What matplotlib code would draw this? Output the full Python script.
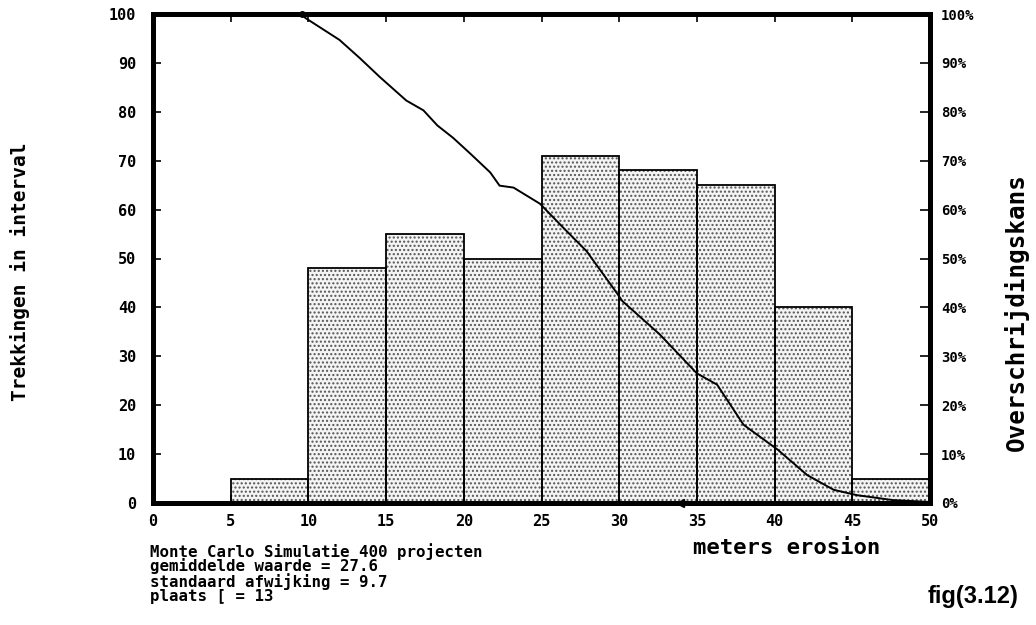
import numpy as np
import matplotlib
matplotlib.use("Agg")
import matplotlib.pyplot as plt

# histogram: 5 m classes, number of draws per class (400 draws in total)
bin_left = [5, 10, 15, 20, 25, 30, 35, 40, 45]
counts = [5, 48, 55, 50, 71, 68, 65, 40, 5]
bin_width = 5

# exceedance probability curve (percent)
curve_x = [9.6, 9.8, 12.0, 13.3, 14.6, 16.3, 17.4, 18.3, 19.3, 20.4, 21.7, 22.3,
           23.2, 24.9, 26.4, 27.9, 29.9, 30.2, 32.6, 35.0, 36.3, 38.0, 40.2,
           42.1, 43.8, 45.3, 47.6, 50.0]
curve_p = [100, 99.2, 94.7, 91.0, 87.1, 82.3, 80.3, 77.2, 74.7, 71.5, 67.6, 64.9,
           64.5, 61.2, 56.3, 51.5, 42.7, 41.3, 34.5, 26.5, 24.2, 16.0, 10.9,
           5.7, 2.7, 1.6, 0.6, 0.2]
marker_x = 33.9

x_ticks = list(range(0, 51, 5))
y_ticks = list(range(0, 101, 10))
pct_labels = [f"{v}%" for v in y_ticks]

info_lines = [
    "Monte Carlo Simulatie 400 projecten",
    "gemiddelde waarde = 27.6",
    "standaard afwijking = 9.7",
    "plaats [ = 13",
]

plt.rcParams["hatch.color"] = "#555555"
plt.rcParams["hatch.linewidth"] = 1.0
mono = "DejaVu Sans Mono"

fig = plt.figure(figsize=(10.36, 6.25), dpi=100)
ax = fig.add_axes([0.1477, 0.1952, 0.75, 0.7824])

# dotted fill, then the outlines on top
ax.bar(bin_left, counts, width=bin_width, align="edge", facecolor="#f4f4f4",
       hatch="....", linewidth=0, zorder=1)
ax.bar(bin_left, counts, width=bin_width, align="edge", fill=False,
       edgecolor="black", linewidth=1.3, zorder=2)

ax.set_xlim(0, 50)
ax.set_ylim(0, 100)
ax.set_xticks(x_ticks)
ax.set_yticks(y_ticks)
ax.tick_params(axis="both", direction="in", length=6, width=1.2,
               labelsize=11, top=True)
ax.tick_params(axis="x", pad=8)
ax.tick_params(axis="y", pad=12)
for lab in ax.get_xticklabels() + ax.get_yticklabels():
    lab.set_fontfamily(mono)
    lab.set_fontweight("bold")
for s in ax.spines.values():
    s.set_linewidth(3.5)

ax2 = ax.twinx()
ax2.set_ylim(0, 100)
ax2.set_yticks(y_ticks)
ax2.set_yticklabels(pct_labels)
ax2.tick_params(axis="y", direction="in", length=7, width=1.2, labelsize=10, pad=8)
for lab in ax2.get_yticklabels():
    lab.set_fontfamily(mono)
    lab.set_fontweight("bold")
for s in ax2.spines.values():
    s.set_linewidth(3.5)

ax2.plot(curve_x, curve_p, color="black", linewidth=1.4, zorder=3)
ax2.plot([curve_x[0]], [curve_p[0]], marker="o", color="black", markersize=4,
         clip_on=False)
ax2.plot([marker_x], [0], marker="<", color="black", markersize=6, clip_on=False)

fig.text(0.019, 0.565, "Trekkingen in interval", rotation=90, ha="center",
         va="center", fontsize=14, fontfamily=mono, fontweight="bold")
fig.text(0.981, 0.5, "Overschrijdingskans", rotation=90, ha="center",
         va="center", fontsize=17.5, fontfamily=mono, fontweight="bold")
fig.text(0.759, 0.123, "meters erosion", ha="center", va="center",
         fontsize=16, fontfamily=mono, fontweight="bold")
fig.text(0.939, 0.045, "fig(3.12)", ha="center", va="center",
         fontsize=17, fontfamily="Liberation Sans", fontweight="bold")

for i, line in enumerate(info_lines):
    fig.text(0.145, 0.118 - i * 0.024, line, ha="left", va="center",
             fontsize=11.3, fontfamily=mono, fontweight="bold")

fig.savefig("out.png", dpi=100)
